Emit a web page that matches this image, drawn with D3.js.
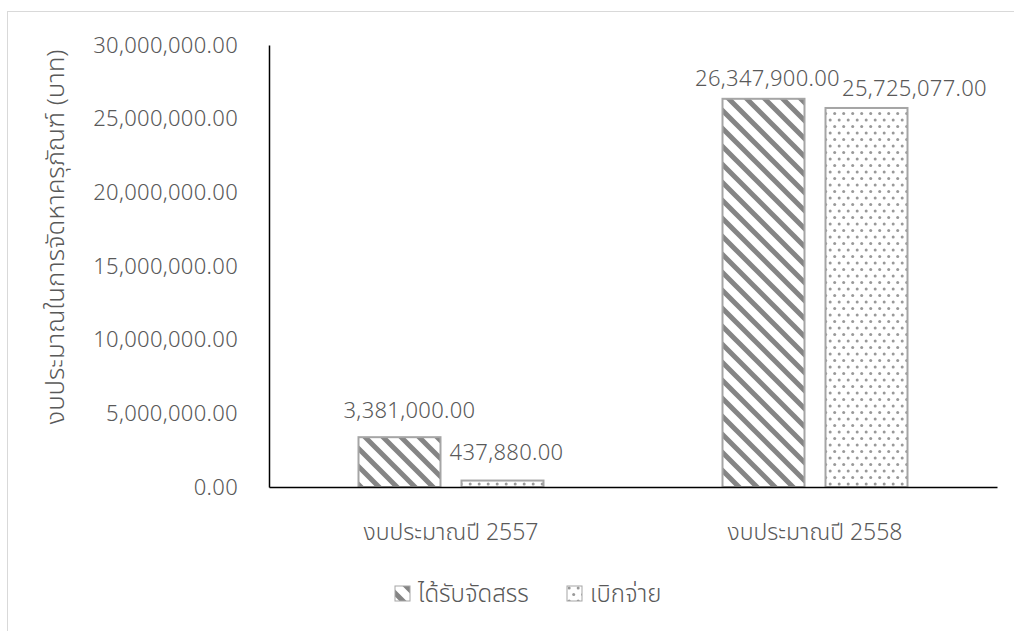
<!DOCTYPE html>
<html><head><meta charset="utf-8">
<script src="https://cdn.jsdelivr.net/npm/d3@7"></script>
<style>
body{margin:0;background:#fff;}
text{font-family:"Noto Sans Thai","Leelawadee UI","Noto Sans","Open Sans",sans-serif;font-weight:300;}
</style>
</head><body>
<svg id="c" width="1014" height="631"></svg>
<script>
const categories = ["งบประมาณปี 2557", "งบประมาณปี 2558"];
const seriesNames = ["ได้รับจัดสรร", "เบิกจ่าย"];
const allocated = [3381000, 26347900];
const disbursed = [437880, 25725077];
const yTicks = [0, 5000000, 10000000, 15000000, 20000000, 25000000, 30000000];
const yTitle = "งบประมาณในการจัดหาครุภัณฑ์ (บาท)";

// layout nudges for data labels: [category][series] = [dx, gap above bar]
const labelNudge = [[[10, 19], [4, 21]], [[4, 13], [48, 12]]];

const svg = d3.select("#c");
const defs = svg.append("defs");
const stripe = defs.append("pattern").attr("id","stripe").attr("patternUnits","userSpaceOnUse")
  .attr("width",18).attr("height",18);
stripe.append("rect").attr("width",18).attr("height",18).attr("fill","#fff");
stripe.append("path").attr("d","M-9,-9 L27,27 M-9,9 L9,27 M9,-9 L27,9")
  .attr("stroke","#858585").attr("stroke-width",5).attr("fill","none");
const dots = defs.append("pattern").attr("id","dots").attr("patternUnits","userSpaceOnUse")
  .attr("width",9).attr("height",13);
dots.append("rect").attr("width",9).attr("height",13).attr("fill","#fff");
dots.append("circle").attr("cx",2.2).attr("cy",3).attr("r",1.5).attr("fill","#999");
dots.append("circle").attr("cx",6.7).attr("cy",9.5).attr("r",1.5).attr("fill","#999");

// chart border
svg.append("rect").attr("x",7.5).attr("y",11.5).attr("width",1020).attr("height",640)
  .attr("fill","none").attr("stroke","#d9d9d9");

const pLeft = 269, pRight = 997, pTop = 45, pBottom = 487;
const x0 = d3.scaleBand().domain(categories).range([pLeft, pRight]).paddingInner(0).paddingOuter(0);
const x1 = d3.scaleBand().domain(seriesNames).range([0, 185]).paddingInner(0.204).paddingOuter(0);
const y = d3.scaleLinear().domain([0, 30000000]).range([pBottom, pTop]);
const fmt = d3.format(",.2f");

// y axis
const yAxis = svg.append("g").attr("transform",`translate(${pLeft},0)`)
  .call(d3.axisLeft(y).tickValues(yTicks).tickFormat(fmt).tickSize(0).tickPadding(31));
yAxis.select(".domain").attr("stroke","#000").attr("stroke-width",1.5);
yAxis.selectAll("text").attr("fill","#595959").attr("font-size",22).attr("letter-spacing",0.3);

// bars
const data = categories.map((c,i)=>({cat:c, vals:[allocated[i], disbursed[i]]}));
const fills = ["url(#stripe)","url(#dots)"];
data.forEach((d,ci)=>{
  const gx = x0(d.cat) + (x0.bandwidth()-185)/2;
  d.vals.forEach((v,si)=>{
    const bx = gx + x1(seriesNames[si]);
    svg.append("rect").attr("x",bx).attr("y",y(v)).attr("width",x1.bandwidth())
      .attr("height",y(0)-y(v)).attr("fill",fills[si]).attr("stroke","#a5a5a5").attr("stroke-width",2);
    const nd = labelNudge[ci][si];
    svg.append("text").attr("x",bx + x1.bandwidth()/2 + nd[0]).attr("y",y(v)-nd[1])
      .attr("text-anchor","middle").attr("fill","#595959").attr("font-size",22)
      .attr("letter-spacing",0.3).text(fmt(v));
  });
});

// x axis
const xAxis = svg.append("g").attr("transform",`translate(0,${pBottom})`)
  .call(d3.axisBottom(x0).tickSize(0).tickPadding(0));
xAxis.select(".domain").attr("stroke","#000").attr("stroke-width",1.5);
xAxis.selectAll("text").attr("fill","#595959").attr("font-size",23).attr("dy",null).attr("y",53);

// y title
svg.append("text").attr("transform","translate(64,237) rotate(-90)").attr("text-anchor","middle")
  .attr("fill","#595959").attr("font-size",24).attr("textLength",375).attr("lengthAdjust","spacingAndGlyphs")
  .text(yTitle);

// legend
const leg = svg.append("g");
const legX = [395, 567];
seriesNames.forEach((s,i)=>{
  leg.append("rect").attr("x",legX[i]).attr("y",586).attr("width",15).attr("height",15)
    .attr("fill",fills[i]).attr("stroke","#a5a5a5").attr("stroke-width",1);
  leg.append("text").attr("x",legX[i]+23).attr("y",602).attr("fill","#595959").attr("font-size",24).text(s);
});
</script>
</body></html>
